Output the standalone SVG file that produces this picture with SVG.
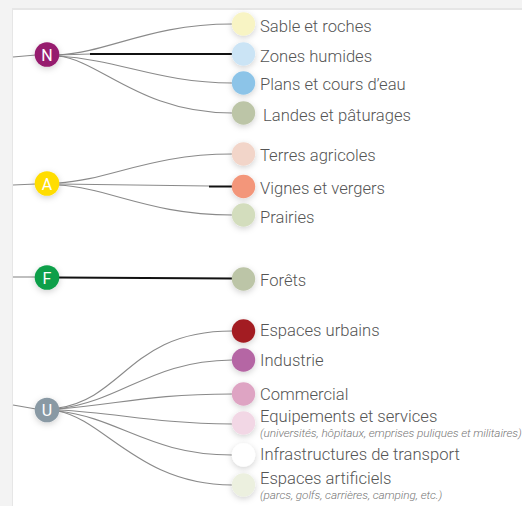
<svg xmlns="http://www.w3.org/2000/svg" width="522" height="506" viewBox="0 0 522 506">
<defs>
<filter id="sh" x="-60%" y="-60%" width="220%" height="220%">
<feDropShadow dx="0" dy="2" stdDeviation="3" flood-color="#000" flood-opacity="0.18"/>
</filter>
<style>
.lbl{font-family:Roboto,"Liberation Sans",sans-serif;font-weight:300;font-size:16.6px;fill:#555}
.sub{font-family:Roboto,"Liberation Sans",sans-serif;font-weight:300;font-style:italic;font-size:11.8px;fill:#777;letter-spacing:-0.1px}
.hub{font-family:Roboto,"Liberation Sans",sans-serif;font-size:16px;fill:#fff;text-anchor:middle}
.g{fill:none;stroke:#8a8a8a;stroke-width:1.1}
.k{fill:none;stroke:#111;stroke-width:2}
.dot{filter:url(#sh)}
</style>
</defs>
<rect width="522" height="506" fill="#f3f3f3"/>
<rect x="12" y="8" width="510" height="498" fill="#e6e6e6"/>
<rect x="13" y="10" width="509" height="496" fill="#fff"/>

<g id="connectors">
<path class="g" d="M13 57 L36 55"/>
<path class="g" d="M58 55 C110 52 150 24 232 24"/>
<path class="g" d="M58 55 L90 54"/>
<path class="k" d="M90 54 L232 54"/>
<path class="g" d="M58 56 C120 60 160 83 232 83"/>
<path class="g" d="M58 56 C100 60 140 113 232 113"/>
<path class="g" d="M13 185 L36 184"/>
<path class="g" d="M58 183 C110 180 150 154 232 154"/>
<path class="g" d="M58 184 L209 186"/>
<path class="k" d="M209 186.5 L232 186.5"/>
<path class="g" d="M58 185 C110 188 150 215 232 215"/>
<path class="g" d="M13 277 L36 277"/>
<path class="k" d="M58 277.5 L232 278.5"/>
<path class="g" d="M13 405 L36 409"/>
<path class="g" d="M58 408 C125 398 130 331 232 331"/>
<path class="g" d="M58 409 C125 400 150 361 232 360"/>
<path class="g" d="M58 409 C120 404 150 394 232 394"/>
<path class="g" d="M58 410 C120 413 150 423 232 424"/>
<path class="g" d="M58 411 C120 418 150 455 232 455"/>
<path class="g" d="M58 411 C105 420 140 485 232 485"/>
</g>

<g id="N"><circle class="dot" cx="47" cy="54.5" r="12.3" fill="#961a6e"/><text class="hub" x="47" y="60.5">N</text></g>
<g id="A"><circle class="dot" cx="47" cy="183.5" r="12.3" fill="#ffdd00"/><text class="hub" x="47" y="189.5">A</text></g>
<g id="F"><circle class="dot" cx="47" cy="277.5" r="12.3" fill="#0a9f48"/><text class="hub" x="47" y="283.5">F</text></g>
<g id="U"><circle class="dot" cx="47" cy="410" r="12.3" fill="#8999a4"/><text class="hub" x="47" y="416">U</text></g>

<g id="sable"><circle class="dot" cx="243.5" cy="24" r="11.7" fill="#f8f4c4"/><text class="lbl" x="260" y="32">Sable et roches</text></g>
<g id="zones"><circle class="dot" cx="243.5" cy="54" r="11.7" fill="#cbe4f5"/><text class="lbl" x="260" y="62">Zones humides</text></g>
<g id="plans"><circle class="dot" cx="243.5" cy="83" r="11.7" fill="#8cc4e8"/><text class="lbl" x="260" y="90">Plans et cours d’eau</text></g>
<g id="landes"><circle class="dot" cx="243.5" cy="113" r="11.7" fill="#bcc5a7"/><text class="lbl" x="263" y="121">Landes et pâturages</text></g>

<g id="terres"><circle class="dot" cx="243.5" cy="154" r="11.7" fill="#f2d5c9"/><text class="lbl" x="260" y="161">Terres agricoles</text></g>
<g id="vignes"><circle class="dot" cx="243.5" cy="186.5" r="11.7" fill="#f3967a"/><text class="lbl" x="260" y="194">Vignes et vergers</text></g>
<g id="prairies"><circle class="dot" cx="243.5" cy="215" r="11.7" fill="#d3ddbd"/><text class="lbl" x="260" y="222.5">Prairies</text></g>

<g id="forets"><circle class="dot" cx="243.5" cy="279" r="11.7" fill="#bcc5a7"/><text class="lbl" x="260" y="286">Forêts</text></g>

<g id="urbains"><circle class="dot" cx="243.5" cy="331" r="11.7" fill="#a31d22"/><text class="lbl" x="260" y="336">Espaces urbains</text></g>
<g id="industrie"><circle class="dot" cx="243.5" cy="360" r="11.7" fill="#b566a4"/><text class="lbl" x="260" y="366">Industrie</text></g>
<g id="commercial"><circle class="dot" cx="243.5" cy="394" r="11.7" fill="#dea4c3"/><text class="lbl" x="260" y="400">Commercial</text></g>
<g id="equipements"><circle class="dot" cx="243.5" cy="423" r="11.7" fill="#f2d7e5"/><text class="lbl" x="260" y="422">Equipements et services</text><text class="sub" x="260" y="437">(universités, hôpitaux, emprises puliques et militaires)</text></g>
<g id="infra"><circle class="dot" cx="243.5" cy="455" r="11.7" fill="#ffffff"/><text class="lbl" x="260" y="460">Infrastructures de transport</text></g>
<g id="artificiels"><circle class="dot" cx="243.5" cy="485" r="11.7" fill="#ecf0df"/><text class="lbl" x="260" y="484">Espaces artificiels</text><text class="sub" x="260" y="499">(parcs, golfs, carrières, camping, etc.)</text></g>
</svg>
